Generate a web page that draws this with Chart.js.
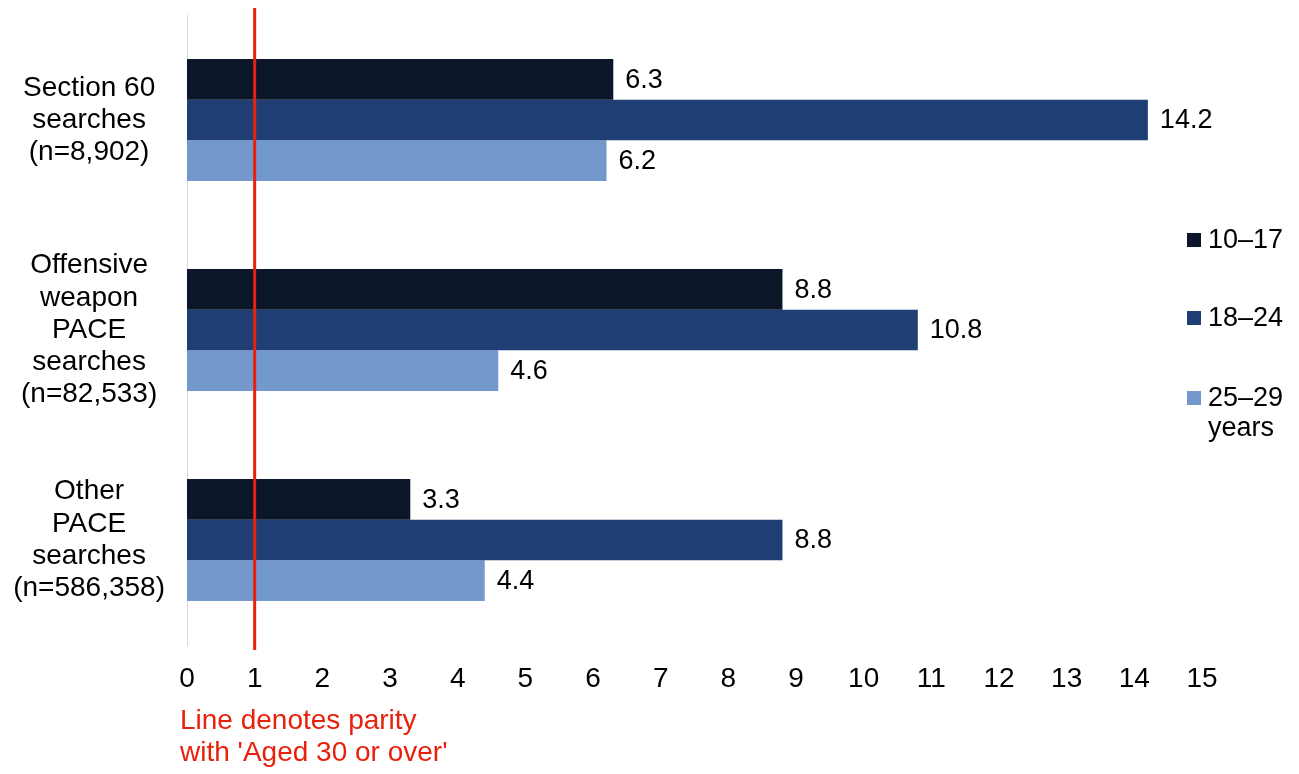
<!DOCTYPE html>
<html>
<head>
<meta charset="utf-8">
<script src="https://cdn.jsdelivr.net/npm/chart.js@4.4.1/dist/chart.umd.min.js"></script>
<style>
  html, body { margin: 0; padding: 0; background: #fff; }
  #wrap { width: 1299px; height: 774px; }
</style>
</head>
<body>
<div id="wrap"><canvas id="chart" width="1299" height="774"></canvas></div>
<script>
// chart data
const categories = [
    ["Section 60", "searches", "(n=8,902)"],
    ["Offensive", "weapon", "PACE", "searches", "(n=82,533)"],
    ["Other", "PACE", "searches", "(n=586,358)"]
];
const seriesNames = ["10\u201317", "18\u201324", "25\u201329 years"];
const age10to17 = [6.3, 8.8, 3.3];
const age18to24 = [14.2, 10.8, 8.8];
const age25to29 = [6.2, 4.6, 4.4];
const seriesColors = ["#0b1628", "#1f3f74", "#7399cc"];
const parityValue = 1;
const parityNote = ["Line denotes parity", "with 'Aged 30 or over'"];

const FONT = "'Liberation Sans', Arial, sans-serif";
const SIZE = 28;
const SMALL = 27;

// value labels to the right of each bar
const valueLabels = {
    id: 'valueLabels',
    afterDatasetsDraw(chart) {
        const ctx = chart.ctx;
        ctx.save();
        ctx.font = SMALL + "px " + FONT;
        ctx.fillStyle = "#000";
        ctx.textAlign = "left";
        ctx.textBaseline = "middle";
        chart.data.datasets.forEach((ds, i) => {
            chart.getDatasetMeta(i).data.forEach((bar, j) => {
                ctx.fillText(ds.data[j].toFixed(1), bar.x + 12, bar.y + 1);
            });
        });
        ctx.restore();
    }
};

// red parity line + note underneath
const parityLine = {
    id: 'parityLine',
    afterDraw(chart) {
        const ctx = chart.ctx;
        const x = chart.scales.x.getPixelForValue(parityValue);
        ctx.save();
        ctx.strokeStyle = "#e8210c";
        ctx.lineWidth = 3;
        ctx.beginPath();
        ctx.moveTo(x, 8);
        ctx.lineTo(x, chart.chartArea.bottom + 5);
        ctx.stroke();

        ctx.fillStyle = "#e8210c";
        ctx.font = SIZE + "px " + FONT;
        ctx.textAlign = "left";
        ctx.textBaseline = "middle";
        parityNote.forEach((line, i) => ctx.fillText(line, 180, 721 + i * 32));
        ctx.restore();
    }
};

// legend on the right, one row per series
const sideLegend = {
    id: 'sideLegend',
    afterDraw(chart) {
        const ctx = chart.ctx;
        const rows = [240, 318, 398];
        ctx.save();
        ctx.font = SMALL + "px " + FONT;
        ctx.textAlign = "left";
        ctx.textBaseline = "middle";
        chart.data.datasets.forEach((ds, i) => {
            ctx.fillStyle = ds.backgroundColor;
            ctx.fillRect(1187, rows[i] - 7, 14, 14);
            ctx.fillStyle = "#000";
            const parts = ds.label.split(" ");
            ctx.fillText(parts[0], 1208, rows[i] + 1);
            if (parts[1]) ctx.fillText(parts[1], 1208, rows[i] + 31);
        });
        ctx.restore();
    }
};

new Chart(document.getElementById('chart'), {
    type: 'bar',
    data: {
        labels: categories,
        datasets: [
            { label: seriesNames[0], data: age10to17, backgroundColor: seriesColors[0] },
            { label: seriesNames[1], data: age18to24, backgroundColor: seriesColors[1] },
            { label: seriesNames[2], data: age25to29, backgroundColor: seriesColors[2] }
        ]
    },
    options: {
        indexAxis: 'y',
        responsive: false,
        animation: false,
        layout: { padding: { top: 15, right: 97, bottom: 0, left: 0 } },
        datasets: { bar: { barPercentage: 1, categoryPercentage: 0.58 } },
        plugins: {
            legend: { display: false },
            tooltip: { enabled: false }
        },
        scales: {
            x: {
                min: 0,
                max: 15,
                ticks: { stepSize: 1, color: "#000", padding: 17, font: { family: FONT, size: SIZE } },
                grid: { display: false, drawTicks: false },
                border: { display: false },
                afterFit(scale) {
                    scale.height = 129;
                    scale.paddingLeft = 0;
                    scale.paddingRight = 0;
                }
            },
            y: {
                ticks: {
                    color: "#000",
                    crossAlign: 'center',
                    padding: 22,
                    font: { family: FONT, size: SIZE, lineHeight: 1.15 }
                },
                grid: { display: false, drawTicks: false },
                border: { display: true, color: "#d9d9d9", width: 1 },
                afterFit(scale) {
                    scale.width = 187;
                    scale.paddingTop = 0;
                    scale.paddingBottom = 0;
                }
            }
        }
    },
    plugins: [valueLabels, parityLine, sideLegend]
});
</script>
</body>
</html>
